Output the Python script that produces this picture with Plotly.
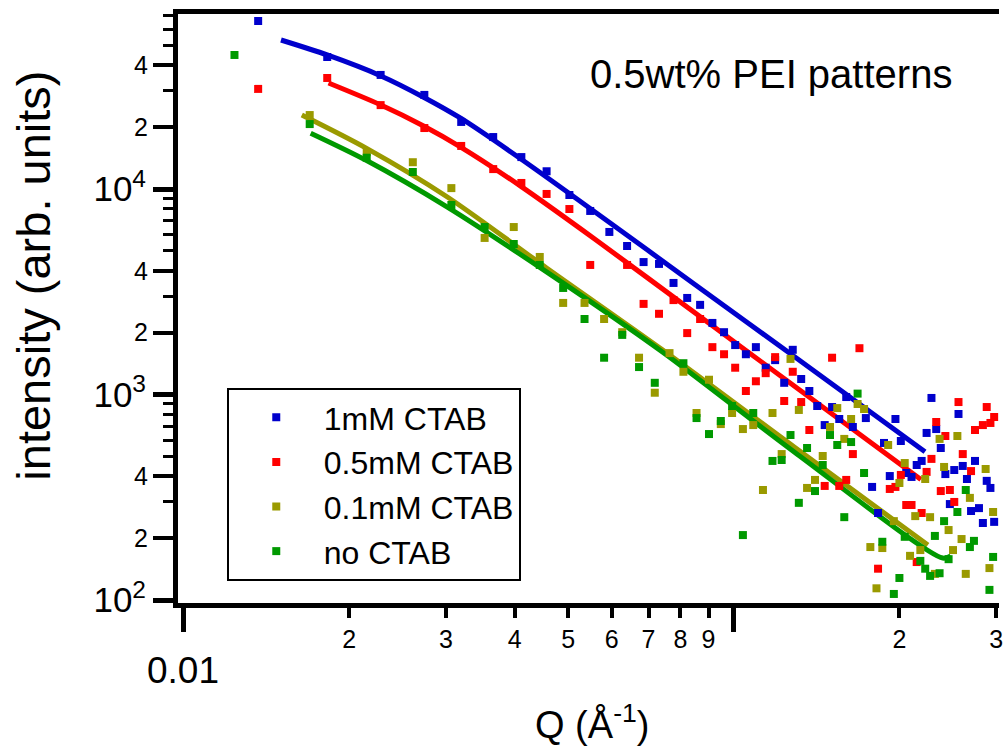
import plotly.graph_objects as go

FONT = "Liberation Sans, Arial, sans-serif"

# ---------------- data ----------------
q_1mM = [0.01367, 0.01825, 0.02282, 0.02740, 0.03197, 0.03655, 0.04112, 0.04570, 0.05027, 0.05485,
         0.05942, 0.06400, 0.06857, 0.07315, 0.07772, 0.08230, 0.08687, 0.09145, 0.09602, 0.1006,
         0.1052, 0.1097, 0.1143, 0.1189, 0.1235, 0.1280, 0.1326, 0.1372, 0.1418, 0.1463,
         0.1509, 0.1555, 0.1601, 0.1646, 0.1738, 0.1784, 0.1829, 0.1875, 0.1921, 0.1967,
         0.2012, 0.2058, 0.2104, 0.2150, 0.2195, 0.2241, 0.2287, 0.2333, 0.2378, 0.2424,
         0.2470, 0.2516, 0.2561, 0.2607, 0.2653, 0.2699, 0.2744, 0.2790, 0.2836, 0.2882,
         0.2927, 0.2973]
i_1mM = [65700, 43900, 35900, 28700, 21200, 17900, 14300, 12200, 9350, 7820,
         6180, 5280, 4410, 4320, 3490, 2950, 2730, 2230, 2010, 1740,
         1570, 1700, 1350, 1470, 1140, 1650, 1190, 1040, 879, 710,
         869, 760, 972, 695, 768, 355, 265, 581, 401, 760,
         594, 415, 397, 454, 475, 650, 962, 679, 549, 410,
         293, 429, 804, 449, 388, 271, 475, 280, 237, 380,
         351, 240]

q_05mM = [0.01367, 0.01825, 0.02282, 0.02740, 0.03197, 0.03655, 0.04112, 0.04570, 0.05027, 0.05485,
          0.06400, 0.06857, 0.07315, 0.07772, 0.08230, 0.08687, 0.09145, 0.09602, 0.1006, 0.1052,
          0.1097, 0.1143, 0.1189, 0.1235, 0.1280, 0.1326, 0.1372, 0.1463, 0.1509, 0.1555,
          0.1601, 0.1646, 0.1692, 0.1829, 0.1921, 0.1967, 0.2012, 0.2058, 0.2104, 0.2150,
          0.2195, 0.2241, 0.2287, 0.2333, 0.2378, 0.2424, 0.2470, 0.2516, 0.2561, 0.2607,
          0.2699, 0.2744, 0.2836, 0.2882, 0.2927, 0.2973]
i_05mM = [30700, 34700, 25600, 19800, 16200, 12500, 10700, 9460, 7990, 4270,
          4270, 2760, 2470, 2880, 1990, 2330, 1700, 1570, 1350, 1040,
          1160, 1270, 1520, 930, 1290, 919, 672, 359, 1510, 359,
          384, 513, 1680, 142, 347, 355, 406, 290, 290, 153,
          265, 420, 486, 735, 339, 628, 343, 300, 919, 513,
          424, 672, 710, 869, 727, 777]

q_01mM = [0.01696, 0.02153, 0.02611, 0.03068, 0.03526, 0.03983, 0.04441, 0.04898, 0.05356, 0.05813,
          0.06271, 0.06728, 0.07186, 0.07643, 0.08101, 0.08558, 0.09016, 0.09473, 0.09931, 0.1039,
          0.1085, 0.1130, 0.1176, 0.1222, 0.1268, 0.1313, 0.1359, 0.1405, 0.1451, 0.1496,
          0.1542, 0.1588, 0.1634, 0.1679, 0.1725, 0.1771, 0.1817, 0.1862, 0.1908, 0.1954,
          0.2000, 0.2045, 0.2091, 0.2137, 0.2183, 0.2228, 0.2274, 0.2320, 0.2366, 0.2411,
          0.2457, 0.2503, 0.2549, 0.2594, 0.2640, 0.2686, 0.2869, 0.2915, 0.2960]
i_01mM = [22900, 15100, 13500, 10100, 5780, 6530, 4670, 2790, 2790, 2330,
          2010, 1510, 1020, 1590, 1290, 813, 1180, 718, 813, 679,
          710, 343, 813, 513, 1490, 841, 351, 384, 502, 695,
          859, 608, 760, 899, 850, 181, 114, 179, 568, 242,
          371, 464, 164, 256, 175, 388, 253, 134, 608, 444,
          219, 175, 628, 198, 134, 314, 434, 143, 268]

q_none = [0.01238, 0.01696, 0.02153, 0.02611, 0.03068, 0.03526, 0.03983, 0.04441, 0.04898, 0.05356,
          0.05813, 0.06271, 0.06728, 0.07186, 0.08101, 0.08558, 0.09016, 0.09473, 0.09931, 0.1039,
          0.1085, 0.1176, 0.1222, 0.1268, 0.1313, 0.1359, 0.1405, 0.1451, 0.1496, 0.1542,
          0.1588, 0.1634, 0.1679, 0.1725, 0.1862, 0.1954, 0.2000, 0.2045, 0.2183, 0.2228,
          0.2274, 0.2320, 0.2366, 0.2411, 0.2457, 0.2549, 0.2640, 0.2686, 0.2732, 0.2915,
          0.2960]
i_none = [44900, 20700, 14200, 12100, 8360, 6530, 5400, 4270, 3300, 2330,
          1510, 1950, 1360, 1140, 1420, 768, 642, 743, 879, 207,
          813, 475, 480, 635, 297, 549, 339, 454, 635, 568,
          253, 587, 1010, 415, 192, 107, 128, 203, 155, 142,
          131, 205, 135, 242, 158, 268, 343, 181, 194, 112,
          162]

# fitted curves
fit_q_1mM = [0.01504, 0.01825, 0.0228, 0.02737, 0.0319, 0.04105, 0.0562, 0.0851, 0.1288, 0.2226]
fit_i_1mM = [53100, 44900, 35600, 27900, 22100, 14000, 7670, 3420, 1530, 527]
fit_q_05mM = [0.01835, 0.0228, 0.02737, 0.0319, 0.04105, 0.0562, 0.0851, 0.1288, 0.2188]
fit_i_05mM = [32800, 25700, 20200, 16000, 10300, 5650, 2490, 1100, 386]
fit_q_01mM = [0.01641, 0.02148, 0.03017, 0.04569, 0.0742, 0.1288, 0.2253]
fit_i_01mM = [22900, 15800, 9140, 4130, 1650, 555, 185]
fit_q_none = [0.01703, 0.02148, 0.03017, 0.04569, 0.0742, 0.1288, 0.2398, 0.2479]
fit_i_none = [18700, 13800, 8170, 3950, 1610, 525, 160, 164]

names = ["1mM CTAB", "0.5mM CTAB", "0.1mM CTAB", "no CTAB"]
colors = ["#0000CC", "#FF0000", "#9A9A00", "#009900"]

# axis ticks / labels
x_long_vals = [0.01, 0.1]
x_label_main = "0.01"
x_short_vals = [0.02, 0.03, 0.04, 0.05, 0.06, 0.07, 0.08, 0.09, 0.2, 0.3]
x_short_text = ["2", "3", "4", "5", "6", "7", "8", "9", "2", "3"]
y_major_vals = [100, 1000, 10000]
y_major_text = ["10<sup>2</sup>", "10<sup>3</sup>", "10<sup>4</sup>"]
y_mid_vals = [200, 400, 2000, 4000, 20000, 40000]
y_mid_text = ["2", "4", "2", "4", "2", "4"]
y_small_vals = [300, 500, 600, 700, 800, 900, 3000, 5000, 6000, 7000, 8000, 9000,
                30000, 50000, 60000, 70000]

XR = [-2.0099, -0.5180]
YR = [1.9854, 4.8516]

fig = go.Figure()

fits = [(fit_q_1mM, fit_i_1mM), (fit_q_05mM, fit_i_05mM), (fit_q_01mM, fit_i_01mM), (fit_q_none, fit_i_none)]
for (fq, fi), c in zip(fits, colors):
    fig.add_trace(go.Scatter(x=fq, y=fi, mode="lines",
                             line=dict(color=c, width=5, shape="spline", smoothing=0.8),
                             showlegend=False, hoverinfo="skip", xaxis="x", yaxis="y"))

pts = [(q_1mM, i_1mM), (q_05mM, i_05mM), (q_01mM, i_01mM), (q_none, i_none)]
for (q, i), c, n in zip(pts, colors, names):
    fig.add_trace(go.Scatter(x=q, y=i, mode="markers", name=n,
                             marker=dict(symbol="square", size=8, color=c, line=dict(width=0)),
                             cliponaxis=False, xaxis="x2", yaxis="y2"))

axis_common = dict(type="log", showgrid=False, zeroline=False, showline=True, linewidth=5,
                   linecolor="black", ticks="outside", tickcolor="black")

fig.update_layout(
    width=1003, height=753, autosize=False,
    margin=dict(l=178, r=0, t=14, b=150, pad=0),
    paper_bgcolor="white", plot_bgcolor="white",
    font=dict(family=FONT, color="black"),
    xaxis=dict(axis_common, range=XR, tickmode="array", tickvals=x_long_vals,
               showticklabels=False, ticklen=24, tickwidth=5, mirror=True),
    xaxis2=dict(axis_common, range=XR, overlaying="x", anchor="y2", side="bottom",
                tickmode="array", tickvals=x_short_vals, ticktext=x_short_text,
                ticklen=10, tickwidth=4, tickfont=dict(size=25), ticklabelstandoff=0,
                ticklabeloverflow="allow"),
    yaxis=dict(axis_common, range=YR, tickmode="array", tickvals=y_major_vals, ticktext=y_major_text,
               ticklen=20, tickwidth=5, tickfont=dict(size=35)),
    yaxis2=dict(axis_common, range=YR, overlaying="y", anchor="x2", side="left",
                tickmode="array", tickvals=y_mid_vals, ticktext=y_mid_text,
                ticklen=20, tickwidth=4, tickfont=dict(size=25),
                minor=dict(tickmode="array", tickvals=y_small_vals, ticklen=10, tickwidth=3,
                           ticks="outside", tickcolor="black")),
    legend=dict(x=0.0594, y=0.3650, xanchor="left", yanchor="top",
                bgcolor="white", bordercolor="black", borderwidth=2,
                font=dict(size=32, family=FONT), itemwidth=85, tracegroupgap=0),
    annotations=[
        dict(text="0.5wt% PEI patterns", x=0.4988, y=0.898, xref="paper", yref="paper",
             xanchor="left", yanchor="middle", showarrow=False, font=dict(size=40, family=FONT)),
        dict(text=x_label_main, x=-2, y=-0.1138, xref="x", yref="paper",
             xanchor="center", yanchor="middle", showarrow=False, font=dict(size=37, family=FONT)),
        dict(text="Q (Å<sup>-1</sup>)", x=0.5042, y=-0.2020, xref="paper", yref="paper",
             xanchor="center", yanchor="middle", showarrow=False, font=dict(size=38, family=FONT)),
        dict(text="intensity (arb. units)", x=-0.1758, y=0.5552, xref="paper", yref="paper",
             xanchor="center", yanchor="middle", textangle=-90, showarrow=False,
             font=dict(size=47, family=FONT)),
    ],
)

fig.write_html("out.html", config={"displayModeBar": False},
               post_script="document.body.style.margin='0px';")
